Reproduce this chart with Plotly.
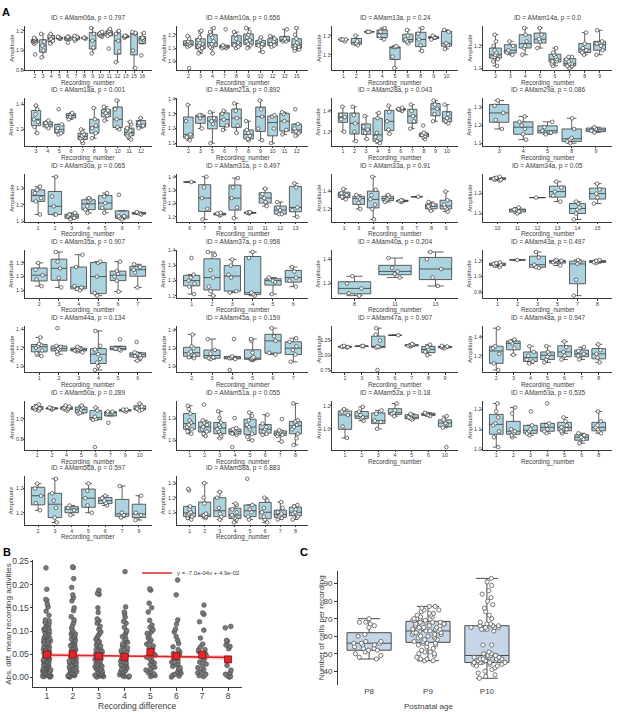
import plotly.graph_objects as go

# ---------------- panel A: amplitude per recording, one box per recording ----------------
ids = ["AMam06a", "AMam10a", "AMam13a", "AMam14a",
       "AMam18a", "AMam21a", "AMam28a", "AMam29a",
       "AMam30a", "AMam31a", "AMam33a", "AMam34a",
       "AMam35a", "AMam37a", "AMam40a", "AMam43a",
       "AMam44a", "AMam45a", "AMam47a", "AMam48a",
       "AMam50a", "AMam51a", "AMam52a", "AMam53a",
       "AMam56a", "AMam58a"]
pvals = ["0.797", "0.656", "0.24", "0.0",
         "0.001", "0.892", "0.043", "0.086",
         "0.065", "0.497", "0.91", "0.05",
         "0.907", "0.958", "0.204", "0.497",
         "0.134", "0.159", "0.907", "0.947",
         "0.289", "0.055", "0.18", "0.535",
         "0.597", "0.883"]

rec_06a = [2, 3, 4, 5, 6, 7, 8, 9, 10, 11, 12, 13, 15, 16]
amp_06a = [[1.12, 1.10, 1.09, 1.11, 1.13, 1.08, 1.10, 1.07, 0.96], [0.93, 1.00, 1.05, 1.09, 1.17],
           [1.07, 1.10, 1.12, 1.15, 1.17], [1.12, 1.13, 1.13, 1.14, 1.12], [1.13, 1.14, 1.08, 1.14],
           [1.12, 1.15, 1.10, 1.14], [1.13, 1.12, 1.13], [0.97, 1.03, 1.10, 1.17, 1.23],
           [1.15, 1.17, 1.18, 1.16, 1.19, 1.14], [1.17, 1.19, 1.22, 1.20, 1.15, 1.02],
           [0.88, 0.99, 1.10, 1.17, 1.20], [1.14, 1.15, 1.13, 1.15], [0.82, 1.00, 1.17, 1.18, 1.19],
           [1.12, 1.13, 1.11, 1.18, 0.95]]
yt_06a = ["0.8", "1.0", "1.2"]

rec_10a = [2, 3, 4, 7, 8, 9, 10, 12, 13, 15]
amp_10a = [[1.12, 1.13, 1.14, 1.15, 1.11, 1.19, 1.17, 1.13, 0.95],
           [1.06, 1.08, 1.10, 1.12, 1.13, 1.14, 1.16, 1.18, 1.22, 1.23, 1.09, 1.11],
           [1.06, 1.10, 1.12, 1.15, 1.18, 1.20, 1.22, 1.25, 1.11, 1.13], [1.10, 1.11, 1.12, 1.11, 1.10, 1.24],
           [1.10, 1.12, 1.14, 1.17, 1.20, 1.22, 1.11], [1.10, 1.13, 1.15, 1.18, 1.20, 1.22, 1.25, 1.12, 1.16],
           [1.07, 1.11, 1.13, 1.15, 1.16, 1.18, 1.12], [1.11, 1.13, 1.15, 1.17, 1.19, 1.12],
           [1.15, 1.16, 1.17, 1.15, 1.24], [1.08, 1.09, 1.11, 1.12, 1.13, 1.14, 1.17, 1.20, 1.25, 1.10]]
yt_10a = ["1.0", "1.1", "1.2"]

rec_13a = [1, 2, 3, 4, 5, 6, 8, 9, 10]
amp_13a = [[1.18, 1.18, 1.18, 1.17, 1.18], [1.15, 1.16, 1.17, 1.20], [1.22, 1.22, 1.22],
           [1.18, 1.20, 1.22, 1.24], [1.03, 1.09, 1.14, 1.14, 1.145], [1.16, 1.17, 1.18, 1.20, 1.23],
           [1.12, 1.15, 1.18, 1.21, 1.24], [1.18, 1.19, 1.20, 1.19], [1.13, 1.15, 1.16, 1.22, 1.23]]
yt_13a = ["1.1", "1.2"]

rec_14a = [2, 3, 4, 5, 6, 7, 8, 9]
amp_14a = [[1.11, 1.13, 1.14, 1.15, 1.16, 1.17, 1.16, 1.18, 1.20, 1.22, 1.25, 1.15],
           [1.16, 1.17, 1.18, 1.20, 1.22], [1.16, 1.19, 1.20, 1.22, 1.25, 1.28], [1.19, 1.22, 1.23, 1.25, 1.28],
           [1.11, 1.12, 1.13, 1.14, 1.15, 1.16, 1.17, 1.19, 1.13],
           [1.10, 1.11, 1.12, 1.12, 1.13, 1.14, 1.15, 1.15, 1.11],
           [1.16, 1.17, 1.18, 1.19, 1.21, 1.26], [1.16, 1.18, 1.20, 1.21, 1.22, 1.27]]
yt_14a = ["1.1", "1.2"]

rec_18a = [3, 4, 5, 6, 7, 8, 9, 10, 11, 12]
amp_18a = [[1.17, 1.22, 1.26, 1.28, 1.32, 1.36, 1.39], [1.21, 1.23, 1.25, 1.27],
           [1.16, 1.17, 1.19, 1.21, 1.24, 1.36], [1.28, 1.30, 1.32, 1.33],
           [1.09, 1.11, 1.13, 1.14, 1.15, 1.16, 1.18, 1.20], [1.13, 1.17, 1.21, 1.23, 1.28, 1.37],
           [1.27, 1.31, 1.33, 1.35, 1.38], [1.20, 1.22, 1.28, 1.36, 1.43],
           [1.12, 1.14, 1.15, 1.16, 1.17, 1.18, 1.19, 1.21, 1.24, 1.26], [1.21, 1.23, 1.25, 1.29]]
yt_18a = ["1.2", "1.4"]

rec_21a = [2, 3, 5, 6, 7, 8, 9, 10, 11, 12]
amp_21a = [[1.12, 1.14, 1.16, 1.25, 1.36], [1.20, 1.27, 1.29, 1.29], [1.10, 1.23, 1.25, 1.27, 1.31],
           [1.19, 1.22, 1.26, 1.30, 1.32], [1.17, 1.22, 1.27, 1.32, 1.37], [1.12, 1.13, 1.15, 1.17, 1.19, 1.25],
           [1.12, 1.20, 1.28, 1.33, 1.39], [1.10, 1.20, 1.28, 1.29], [1.16, 1.19, 1.25, 1.30, 1.31],
           [1.15, 1.17, 1.18, 1.20, 1.23, 1.33]]
yt_21a = ["1.1", "1.2", "1.3", "1.4"]

rec_28a = [1, 2, 3, 4, 5, 6, 7, 8, 9, 10]
amp_28a = [[1.20, 1.32, 1.34, 1.36, 1.44], [1.11, 1.20, 1.28, 1.36, 1.44], [1.13, 1.19, 1.22, 1.25, 1.35],
           [1.09, 1.11, 1.15, 1.19, 1.33, 1.38], [1.18, 1.22, 1.30, 1.39, 1.45], [1.40, 1.41, 1.42, 1.43, 1.41],
           [1.23, 1.30, 1.35, 1.40, 1.46], [1.13, 1.15, 1.16, 1.17, 1.18, 1.19, 1.26],
           [1.30, 1.37, 1.42, 1.46, 1.50], [1.28, 1.30, 1.33, 1.37, 1.46]]
yt_28a = ["1.2", "1.4"]

rec_29a = [3, 4, 5, 8, 9]
amp_29a = [[1.18, 1.23, 1.27, 1.31, 1.34], [1.12, 1.15, 1.18, 1.20, 1.22, 1.25], [1.15, 1.16, 1.17, 1.19, 1.22],
           [1.10, 1.11, 1.12, 1.13, 1.18, 1.24], [1.16, 1.17, 1.18, 1.19]]
yt_29a = ["1.1", "1.2", "1.3"]

rec_30a = [1, 2, 3, 4, 5, 6, 7]
amp_30a = [[1.14, 1.22, 1.24, 1.27, 1.29, 1.31], [1.14, 1.14, 1.19, 1.25, 1.37], [1.11, 1.12, 1.13, 1.14, 1.15],
           [1.15, 1.17, 1.19, 1.22, 1.23, 1.24], [1.15, 1.18, 1.21, 1.25, 1.27], [1.11, 1.12, 1.13, 1.13, 1.26],
           [1.14, 1.145, 1.15, 1.155]]
yt_30a = ["1.1", "1.2", "1.3"]

rec_31a = [6, 7, 8, 9, 10, 11, 12, 13]
amp_31a = [[1.36], [1.08, 1.16, 1.24, 1.32, 1.40], [1.11, 1.115, 1.12, 1.125, 1.13], [1.09, 1.17, 1.24, 1.32, 1.39],
           [1.125, 1.13, 1.13, 1.135], [1.18, 1.21, 1.24, 1.27, 1.31], [1.12, 1.12, 1.15, 1.17, 1.21],
           [1.10, 1.15, 1.17, 1.32, 1.35]]
yt_31a = ["1.1", "1.2", "1.3", "1.4"]

rec_33a = [1, 3, 4, 5, 6, 7, 8, 9]
amp_33a = [[1.31, 1.34, 1.36, 1.38, 1.43], [1.20, 1.27, 1.32, 1.34, 1.36], [1.08, 1.20, 1.25, 1.31, 1.36, 1.42, 1.57],
           [1.28, 1.30, 1.32, 1.34, 1.36], [1.28, 1.29, 1.30, 1.30], [1.34], [1.18, 1.21, 1.23, 1.25, 1.28],
           [1.17, 1.20, 1.22, 1.25, 1.30, 1.40]]
yt_33a = ["1.2", "1.4"]

rec_34a = [10, 11, 12, 13, 14, 15]
amp_34a = [[1.265, 1.27, 1.275, 1.28, 1.285, 1.27], [1.10, 1.11, 1.12, 1.12, 1.13], [1.18],
           [1.16, 1.19, 1.21, 1.23, 1.26], [1.07, 1.10, 1.12, 1.13, 1.15, 1.16], [1.15, 1.18, 1.20, 1.22, 1.25]]
yt_34a = ["1.1", "1.2", "1.3"]

rec_35a = [2, 3, 4, 5, 6, 7]
amp_35a = [[1.13, 1.18, 1.21, 1.25, 1.30], [1.12, 1.19, 1.26, 1.31, 1.38], [1.10, 1.11, 1.12, 1.13, 1.27, 1.36],
           [1.06, 1.08, 1.20, 1.30, 1.31], [1.09, 1.17, 1.20, 1.22, 1.24, 1.31], [1.12, 1.23, 1.25, 1.27, 1.29]]
yt_35a = ["1.1", "1.2", "1.3", "1.4"]

rec_37a = [1, 2, 3, 4, 5, 6]
amp_37a = [[1.11, 1.16, 1.18, 1.20, 1.22, 1.24, 1.35], [1.10, 1.13, 1.16, 1.22, 1.27, 1.37, 1.39],
           [1.12, 1.13, 1.22, 1.24, 1.30, 1.34], [1.10, 1.11, 1.12, 1.35, 1.39], [1.11, 1.19, 1.20, 1.21, 1.22],
           [1.16, 1.20, 1.22, 1.26, 1.29]]
yt_37a = ["1.1", "1.2", "1.3", "1.4"]

rec_40a = [8, 11, 13]
amp_40a = [[1.10, 1.12, 1.16, 1.20, 1.26], [1.25, 1.28, 1.30, 1.33, 1.41], [1.18, 1.25, 1.32, 1.40, 1.46]]
yt_40a = ["1.2", "1.4"]

rec_43a = [1, 2, 3, 5, 7, 8]
amp_43a = [[1.12, 1.14, 1.15, 1.16, 1.17, 1.18], [1.21], [1.11, 1.12, 1.15, 1.24, 1.31],
           [1.14, 1.18, 1.20, 1.21, 1.20], [0.76, 0.96, 1.16, 1.19, 1.21], [1.17, 1.18, 1.19, 1.20, 1.21]]
yt_43a = ["0.8", "1.0", "1.2"]

rec_44a = [1, 2, 3, 4, 5, 6]
amp_44a = [[1.11, 1.14, 1.17, 1.20, 1.22, 1.23, 1.24, 1.31], [1.13, 1.16, 1.18, 1.19, 1.21, 1.22, 1.41],
           [1.15, 1.16, 1.17, 1.18, 1.19, 1.20, 1.21, 1.18], [0.96, 1.00, 1.04, 1.08, 1.13, 1.16, 1.18, 1.22, 1.38],
           [1.17, 1.18, 1.19, 1.19, 1.29], [1.06, 1.09, 1.11, 1.12, 1.13, 1.14, 1.15, 1.26]]
yt_44a = ["1.0", "1.2", "1.4"]

rec_45a = [2, 3, 4, 5, 6, 7]
amp_45a = [[1.09, 1.10, 1.12, 1.14, 1.16, 1.20, 1.22, 1.35], [1.08, 1.09, 1.10, 1.14, 1.18, 1.30],
           [0.96, 1.08, 1.09, 1.09, 1.10, 1.11, 1.30], [1.07, 1.07, 1.08, 1.08, 1.09, 1.10, 1.15, 1.28, 1.30],
           [1.13, 1.15, 1.28, 1.33, 1.42], [1.05, 1.13, 1.18, 1.22, 1.27, 1.31]]
yt_45a = ["1.0", "1.2", "1.4"]

rec_47a = [1, 3, 5, 6, 7, 8, 9]
amp_47a = [[1.13, 1.14, 1.15, 1.16, 1.14], [1.15, 1.16, 1.155], [0.75, 1.13, 1.14, 1.15, 1.25, 1.35, 1.46],
           [1.34], [1.15, 1.16, 1.17, 1.18, 1.19, 1.17], [1.00, 1.06, 1.10, 1.14, 1.18],
           [1.12, 1.13, 1.14, 1.15, 1.16]]
yt_47a = ["0.75", "1.00", "1.25"]

rec_48a = [2, 3, 4, 5, 6, 7, 8]
amp_48a = [[1.05, 1.12, 1.22, 1.28, 1.30, 1.49], [1.21, 1.28, 1.33, 1.35, 1.37], [1.12, 1.14, 1.16, 1.20, 1.24, 1.30],
           [1.13, 1.16, 1.19, 1.22, 1.24, 1.30], [1.16, 1.20, 1.24, 1.29, 1.35], [1.16, 1.20, 1.22, 1.25, 1.29],
           [1.13, 1.18, 1.22, 1.26, 1.32]]
yt_48a = ["1.2", "1.4"]

rec_50a = [1, 2, 4, 5, 6, 7, 9, 10]
amp_50a = [[1.08, 1.09, 1.10, 1.11, 1.12, 1.14], [1.09, 1.10, 1.105, 1.11], [1.08, 1.09, 1.10, 1.11, 1.12, 1.13, 1.10],
           [1.05, 1.06, 1.09, 1.11, 1.13], [0.72, 0.99, 1.00, 1.02, 1.08, 1.11], [0.96, 1.05, 1.06, 1.07, 1.07],
           [1.07, 1.08, 1.09, 1.09], [1.08, 1.09, 1.10, 1.12, 1.15]]
yt_50a = ["0.8", "1.0"]

rec_51a = [1, 2, 3, 4, 5, 6, 7, 8]
amp_51a = [[1.06, 1.08, 1.10, 1.12, 1.14, 1.16, 1.18, 1.24, 1.28, 1.31],
           [1.04, 1.06, 1.08, 1.10, 1.12, 1.14, 1.16, 1.18, 1.32],
           [1.02, 1.04, 1.06, 1.08, 1.10, 1.12, 1.14, 1.16, 1.20, 1.26],
           [0.94, 1.05, 1.06, 1.07, 1.08, 1.09, 1.10, 1.11, 1.20],
           [1.00, 1.03, 1.06, 1.10, 1.12, 1.14, 1.18, 1.22, 1.25],
           [1.05, 1.06, 1.08, 1.10, 1.12, 1.15, 1.23],
           [0.99, 1.04, 1.05, 1.06, 1.07, 1.08, 1.09, 1.19],
           [0.96, 1.02, 1.06, 1.10, 1.12, 1.14, 1.16, 1.17, 1.18, 1.33]]
yt_51a = ["1.0", "1.2"]

rec_52a = [1, 2, 3, 4, 5, 6, 10]
amp_52a = [[0.92, 1.02, 1.12, 1.15, 1.17], [1.07, 1.09, 1.10, 1.12, 1.15, 1.19], [1.00, 1.06, 1.07, 1.13, 1.16],
           [1.11, 1.13, 1.14, 1.16, 1.22], [1.08, 1.09, 1.10, 1.12, 1.13], [1.11, 1.12, 1.13, 1.14],
           [0.84, 1.01, 1.04, 1.05, 1.07, 1.08, 1.11]]
yt_52a = ["1.0", "1.2"]

rec_53a = [1, 2, 3, 4, 5, 6, 8]
amp_53a = [[1.01, 1.06, 1.09, 1.12, 1.13, 1.16, 1.19, 1.23], [1.06, 1.07, 1.08, 1.09, 1.09, 1.10, 1.18, 1.21],
           [1.07, 1.08, 1.09, 1.10, 1.12, 1.19], [1.08, 1.09, 1.10, 1.12, 1.13, 1.23],
           [1.08, 1.09, 1.10, 1.11, 1.12, 1.14, 1.16], [1.03, 1.05, 1.06, 1.07, 1.08],
           [1.08, 1.09, 1.10, 1.11, 1.12, 1.14, 1.19]]
yt_53a = ["1.0", "1.1", "1.2"]

rec_56a = [2, 3, 4, 5, 6, 7, 9]
amp_56a = [[1.11, 1.14, 1.17, 1.20, 1.22], [1.06, 1.08, 1.12, 1.15, 1.18, 1.24], [1.09, 1.11, 1.12, 1.13],
           [1.10, 1.13, 1.16, 1.19, 1.22], [1.13, 1.14, 1.15, 1.16, 1.17], [1.08, 1.09, 1.10, 1.21],
           [1.07, 1.09, 1.10, 1.17]]
yt_56a = ["1.1", "1.2"]

rec_58a = [1, 2, 3, 4, 5, 6, 7, 8]
amp_58a = [[1.05, 1.06, 1.07, 1.08, 1.09, 1.10, 1.12, 1.14, 1.25, 1.26],
           [1.06, 1.07, 1.07, 1.08, 1.08, 1.09, 1.16, 1.20, 1.30],
           [1.05, 1.07, 1.09, 1.13, 1.20, 1.24],
           [1.03, 1.05, 1.06, 1.07, 1.08, 1.10, 1.12, 1.15, 1.16],
           [1.05, 1.07, 1.10, 1.12, 1.15, 1.33],
           [1.03, 1.05, 1.07, 1.10, 1.13, 1.18, 1.20],
           [1.05, 1.06, 1.07, 1.08, 1.09, 1.10, 1.13, 1.17],
           [1.05, 1.07, 1.09, 1.10, 1.12, 1.14, 1.15]]
yt_58a = ["1.1", "1.2", "1.3"]

recs = [rec_06a, rec_10a, rec_13a, rec_14a, rec_18a, rec_21a, rec_28a, rec_29a,
        rec_30a, rec_31a, rec_33a, rec_34a, rec_35a, rec_37a, rec_40a, rec_43a,
        rec_44a, rec_45a, rec_47a, rec_48a, rec_50a, rec_51a, rec_52a, rec_53a,
        rec_56a, rec_58a]
amps = [amp_06a, amp_10a, amp_13a, amp_14a, amp_18a, amp_21a, amp_28a, amp_29a,
        amp_30a, amp_31a, amp_33a, amp_34a, amp_35a, amp_37a, amp_40a, amp_43a,
        amp_44a, amp_45a, amp_47a, amp_48a, amp_50a, amp_51a, amp_52a, amp_53a,
        amp_56a, amp_58a]
yticks = [yt_06a, yt_10a, yt_13a, yt_14a, yt_18a, yt_21a, yt_28a, yt_29a,
          yt_30a, yt_31a, yt_33a, yt_34a, yt_35a, yt_37a, yt_40a, yt_43a,
          yt_44a, yt_45a, yt_47a, yt_48a, yt_50a, yt_51a, yt_52a, yt_53a,
          yt_56a, yt_58a]

# ---------------- panel B: abs. diff. of mean activity vs recording difference ----------------
rec_diff = [1, 2, 3, 4, 5, 6, 7, 8]
absdiff_1 = [0.236, 0.190, 0.168, 0.166, 0.158, 0.152, 0.143, 0.134, 0.124, 0.122, 0.119, 0.115, 0.111,
             0.108, 0.104, 0.101, 0.098, 0.095, 0.091, 0.088, 0.085, 0.082, 0.079, 0.076, 0.073, 0.070,
             0.067, 0.064, 0.061, 0.058, 0.056, 0.053, 0.051, 0.048, 0.046, 0.043, 0.041, 0.039, 0.036,
             0.034, 0.032, 0.030, 0.028, 0.026, 0.024, 0.022, 0.020, 0.018, 0.016, 0.014, 0.012, 0.011,
             0.009, 0.008, 0.006, 0.005, 0.004, 0.003, 0.002, 0.001, 0.044, 0.057, 0.066, 0.072, 0.081,
             0.093, 0.105, 0.015, 0.025, 0.035, 0.003, 0.007, 0.012, 0.019, 0.027, 0.038, 0.049, 0.062,
             0.074, 0.087, 0.099, 0.116]
absdiff_2 = [0.238, 0.237, 0.213, 0.194, 0.178, 0.172, 0.165, 0.150, 0.144, 0.131, 0.124, 0.118, 0.112,
             0.106, 0.100, 0.097, 0.094, 0.090, 0.086, 0.083, 0.080, 0.077, 0.074, 0.071, 0.068, 0.065,
             0.062, 0.060, 0.057, 0.054, 0.051, 0.049, 0.046, 0.043, 0.040, 0.038, 0.035, 0.033, 0.031,
             0.028, 0.026, 0.024, 0.021, 0.019, 0.017, 0.015, 0.013, 0.011, 0.009, 0.008, 0.006, 0.005,
             0.004, 0.003, 0.002, 0.001, 0.052, 0.063, 0.078, 0.088, 0.036, 0.022, 0.004, 0.010, 0.016,
             0.029, 0.042, 0.058, 0.069, 0.093]
absdiff_3 = [0.188, 0.181, 0.179, 0.150, 0.140, 0.126, 0.122, 0.117, 0.110, 0.104, 0.098, 0.094, 0.090,
             0.086, 0.082, 0.078, 0.074, 0.070, 0.066, 0.063, 0.060, 0.057, 0.054, 0.051, 0.048, 0.045,
             0.042, 0.040, 0.037, 0.034, 0.031, 0.029, 0.026, 0.023, 0.021, 0.018, 0.016, 0.014, 0.012,
             0.010, 0.008, 0.006, 0.005, 0.003, 0.002, 0.001, 0.047, 0.055, 0.068, 0.030, 0.019, 0.004,
             0.009, 0.024, 0.039, 0.077]
absdiff_4 = [0.228, 0.152, 0.141, 0.137, 0.130, 0.121, 0.117, 0.108, 0.101, 0.097, 0.092, 0.088, 0.084,
             0.080, 0.076, 0.072, 0.068, 0.064, 0.060, 0.057, 0.054, 0.050, 0.047, 0.044, 0.041, 0.038,
             0.035, 0.032, 0.029, 0.026, 0.023, 0.020, 0.018, 0.015, 0.012, 0.010, 0.008, 0.006, 0.004,
             0.003, 0.002, 0.001, 0.046, 0.058, 0.071, 0.013, 0.027]
absdiff_5 = [0.191, 0.188, 0.160, 0.150, 0.141, 0.123, 0.113, 0.108, 0.103, 0.099, 0.095, 0.090, 0.085,
             0.080, 0.076, 0.072, 0.068, 0.064, 0.060, 0.056, 0.053, 0.050, 0.047, 0.044, 0.041, 0.038,
             0.035, 0.031, 0.028, 0.025, 0.022, 0.019, 0.016, 0.013, 0.010, 0.008, 0.006, 0.004, 0.002,
             0.048, 0.055, 0.062]
absdiff_6 = [0.210, 0.178, 0.124, 0.115, 0.104, 0.098, 0.088, 0.080, 0.073, 0.066, 0.060, 0.055, 0.052,
             0.048, 0.045, 0.042, 0.039, 0.036, 0.033, 0.030, 0.027, 0.024, 0.021, 0.018, 0.015, 0.012,
             0.009, 0.007, 0.005, 0.003, 0.001, 0.050]
absdiff_7 = [0.156, 0.139, 0.136, 0.120, 0.102, 0.085, 0.072, 0.066, 0.060, 0.056, 0.052, 0.048, 0.045,
             0.041, 0.037, 0.033, 0.029, 0.025, 0.021, 0.017, 0.013, 0.010, 0.007, 0.004, 0.002, 0.060]
absdiff_8 = [0.110, 0.107, 0.080, 0.078, 0.070, 0.067, 0.062, 0.026, 0.016, 0.010, 0.007, 0.004, 0.002, 0.001]
absdiff = [absdiff_1, absdiff_2, absdiff_3, absdiff_4, absdiff_5, absdiff_6, absdiff_7, absdiff_8]

group_mean = [0.0496, 0.0496, 0.046, 0.044, 0.055, 0.046, 0.049, 0.039]
fit_slope, fit_intercept = -7.0e-04, 4.9e-02
ci_upper = [0.0533, 0.0516, 0.0502, 0.0492, 0.0485, 0.0481, 0.0481, 0.0484]
ci_lower = [0.0433, 0.0436, 0.0436, 0.0432, 0.0425, 0.0415, 0.0401, 0.0384]

# ---------------- panel C: number of cells per recording by age ----------------
ages = ["P8", "P9", "P10"]
cells_p8 = [70, 68, 68, 67, 66, 65, 61, 60, 57, 57, 56, 56, 56, 55, 55, 54, 53, 53, 52, 52, 51, 50, 49, 48, 47]
cells_p9 = [77, 77, 76, 75, 75, 74, 73, 73, 72, 72, 71, 71, 70, 70, 70, 69, 69, 69, 68, 68, 68, 68, 67, 67,
            67, 66, 66, 66, 65, 65, 65, 64, 64, 64, 64, 63, 63, 63, 63, 62, 62, 62, 61, 61, 61, 60, 60, 60,
            59, 59, 58, 58, 57, 57, 56, 56, 56, 55, 55, 54, 53, 52, 51, 51, 50, 50, 49, 48, 47, 47, 46, 46]
cells_p10 = [93, 91, 89, 86, 84, 82, 80, 78, 76, 74, 72, 70, 68, 67, 67, 66, 66, 66, 65, 65, 65, 65, 64, 64,
             64, 63, 55, 55, 51, 50, 50, 49, 49, 49, 49, 48, 48, 48, 48, 47, 47, 47, 47, 46, 46, 46, 46, 45,
             45, 45, 45, 45, 44, 44, 44, 43, 43, 42, 41, 40, 39, 38, 37, 36]
cells = [cells_p8, cells_p9, cells_p10]

# ---------------- figure ----------------
W, H = 617, 715
FONT = "Liberation Sans, Arial, sans-serif"
ink = "#3a3a3a"
txt = "#3c3c3c"

col_px = [(25, 152), (177, 308), (332, 458), (483, 612)]
row_px = [(22, 67), (95, 143), (172, 220), (248, 297), (325, 372), (401, 450), (477, 526)]


def fx(p):
    return p / W


def fy(p):
    return 1 - p / H


def sfx(k):
    return "" if k == 1 else str(k)


def label(text, x, y, size, angle=0, bold=False):
    return dict(x=fx(x), y=fy(y), xref="paper", yref="paper", text=f"<b>{text}</b>" if bold else text,
                showarrow=False, xanchor="center", yanchor="middle", textangle=angle,
                font=dict(size=size, color="black" if bold else txt))


fig = go.Figure()
axes = {}
notes = []

for i, (rec, amp) in enumerate(zip(recs, amps)):
    k = i + 1
    r, c = divmod(i, 4)
    x0, x1 = col_px[c]
    y0, y1 = row_px[r]
    xs, ys = [], []
    for n, vals in zip(rec, amp):
        xs += [str(n)] * len(vals)
        ys += vals
    fig.add_trace(go.Box(
        x=xs, y=ys, xaxis="x" + sfx(k), yaxis="y" + sfx(k),
        boxpoints="all", jitter=0.55, pointpos=0, width=0.8, whiskerwidth=0.5,
        fillcolor="#acd4e0", line=dict(color=ink, width=0.8),
        marker=dict(color="white", size=3.6, line=dict(color=ink, width=0.7)),
        showlegend=False, hoverinfo="skip"))
    axes["xaxis" + sfx(k)] = dict(
        domain=[fx(x0), fx(x1)], anchor="y" + sfx(k), type="category",
        showline=True, linecolor=ink, linewidth=0.9, ticks="outside", ticklen=1.5,
        tickwidth=0.8, tickcolor=ink, tickfont=dict(size=5.3, color=txt),
        ticklabelstandoff=-1, showgrid=False, zeroline=False)
    yt = yticks[i]
    axes["yaxis" + sfx(k)] = dict(
        domain=[fy(y1), fy(y0)], anchor="x" + sfx(k),
        showline=True, linecolor=ink, linewidth=0.9, ticks="outside", ticklen=1.5,
        tickwidth=0.8, tickcolor=ink, tickfont=dict(size=5.3, color=txt),
        ticklabelstandoff=-2, tickvals=[float(t) for t in yt], ticktext=yt,
        showgrid=False, zeroline=False)
    notes.append(label(f"ID = {ids[i]}, p = {pvals[i]}", (x0 + x1) / 2, y0 - 8, 6.5))
    notes.append(label("Recording_number", (x0 + x1) / 2, y1 + 12.5, 6.3))
    notes.append(label("Amplitude", x0 - 14, (y0 + y1) / 2, 6.2, angle=-90))

# panel B
kb = len(recs) + 1
bx, by = "x" + sfx(kb), "y" + sfx(kb)
bxs, bys = [], []
for d, vals in zip(rec_diff, absdiff):
    bxs += [d] * len(vals)
    bys += vals
fig.add_trace(go.Box(
    x=bxs, y=bys, xaxis=bx, yaxis=by, boxpoints="all", jitter=1, pointpos=0, width=0.42,
    fillcolor="rgba(0,0,0,0)", line=dict(color="rgba(0,0,0,0)", width=0),
    marker=dict(color="#7a7a7a", size=4.8, line=dict(color="#3a3a3a", width=0.5)),
    showlegend=False, hoverinfo="skip"))
fig.add_trace(go.Scatter(x=rec_diff, y=ci_upper, xaxis=bx, yaxis=by, mode="lines",
                         line=dict(width=0, color="rgba(0,0,0,0)"), showlegend=False, hoverinfo="skip"))
fig.add_trace(go.Scatter(x=rec_diff, y=ci_lower, xaxis=bx, yaxis=by, mode="lines", fill="tonexty",
                         fillcolor="rgba(232,90,90,0.28)", line=dict(width=0, color="rgba(0,0,0,0)"),
                         showlegend=False, hoverinfo="skip"))
fig.add_trace(go.Scatter(x=rec_diff, y=[fit_slope * d + fit_intercept for d in rec_diff],
                         xaxis=bx, yaxis=by, mode="lines", line=dict(color="#e0262b", width=1.6),
                         name="y = -7.0e-04x + 4.9e-02", showlegend=True, hoverinfo="skip"))
fig.add_trace(go.Scatter(x=rec_diff, y=group_mean, xaxis=bx, yaxis=by, mode="markers",
                         marker=dict(symbol="square", size=7, color="#e0262b",
                                     line=dict(color="#8b1010", width=0.8)),
                         showlegend=False, hoverinfo="skip"))
axes["xaxis" + sfx(kb)] = dict(
    domain=[fx(33), fx(242)], anchor=by, range=[0.46, 8.54], tickvals=rec_diff,
    showline=True, linecolor=ink, linewidth=1, ticks="outside", ticklen=2.5, tickcolor=ink,
    tickfont=dict(size=8.5, color=txt), ticklabelstandoff=-2, showgrid=False, zeroline=False)
axes["yaxis" + sfx(kb)] = dict(
    domain=[fy(690), fy(562)], anchor=bx, range=[-0.021, 0.252],
    tickvals=[0, 0.05, 0.10, 0.15, 0.20, 0.25], ticktext=["0.00", "0.05", "0.10", "0.15", "0.20", "0.25"],
    showline=True, linecolor=ink, linewidth=1, ticks="outside", ticklen=2.5, tickcolor=ink,
    tickfont=dict(size=8.5, color=txt), ticklabelstandoff=-1, showgrid=False, zeroline=False)
notes.append(label("Recording difference", (33 + 242) / 2, 709, 8.5))
notes.append(label("Abs. diff. mean recording activities", 9, (562 + 690) / 2, 8, angle=-90))

# panel C
kc = kb + 1
cx, cy = "x" + sfx(kc), "y" + sfx(kc)
cxs, cys = [], []
for a, vals in zip(ages, cells):
    cxs += [a] * len(vals)
    cys += vals
fig.add_trace(go.Box(
    x=cxs, y=cys, xaxis=cx, yaxis=cy, boxpoints="all", jitter=0.9, pointpos=0, width=0.75,
    whiskerwidth=0.5, fillcolor="#c4d6e8", line=dict(color="#4a4a4a", width=1),
    marker=dict(color="white", size=4.2, line=dict(color="#555555", width=0.8)),
    showlegend=False, hoverinfo="skip"))
axes["xaxis" + sfx(kc)] = dict(
    domain=[fx(338), fx(518)], anchor=cy, type="category", showline=False, ticks="",
    tickfont=dict(size=8, color=txt), showgrid=False, zeroline=False)
axes["yaxis" + sfx(kc)] = dict(
    domain=[fy(688), fy(573)], anchor=cx, range=[32, 97], tickvals=[40, 50, 60, 70, 80, 90],
    showline=True, linecolor=ink, linewidth=1, ticks="outside", ticklen=3, tickcolor=ink,
    tickfont=dict(size=8, color=txt), showgrid=False, zeroline=False)
notes.append(label("Postnatal age", (338 + 518) / 2, 709, 8))
notes.append(label("Number of cells per recording", 321, (573 + 688) / 2, 8, angle=-90))

notes.append(label("A", 6, 8, 11, bold=True))
notes.append(label("B", 7, 553, 11, bold=True))
notes.append(label("C", 304, 553, 11, bold=True))

fig.update_layout(
    width=W, height=H, margin=dict(l=0, r=0, t=0, b=0),
    paper_bgcolor="white", plot_bgcolor="white",
    font=dict(family=FONT, color=txt),
    annotations=notes,
    legend=dict(x=fx(137), y=fy(560), xanchor="left", yanchor="top", bgcolor="rgba(0,0,0,0)",
                font=dict(size=6, color=txt), itemwidth=30),
    **axes)

# the page body has a default 8px margin; drop it so the figure sits at the window origin
fig.write_html("out.html", config={"displayModeBar": False},
               post_script="document.body.style.margin='0px';")
